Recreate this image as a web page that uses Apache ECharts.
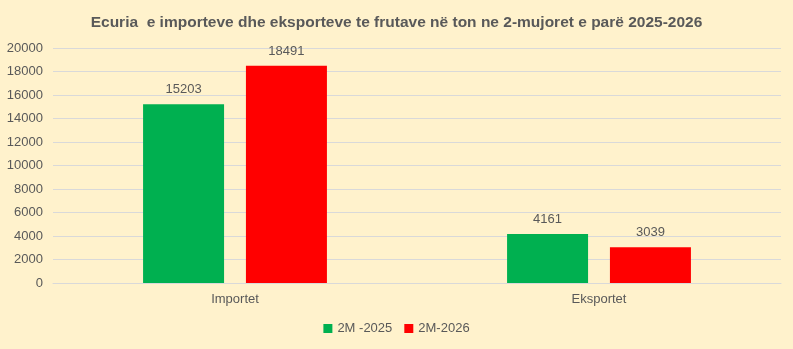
<!DOCTYPE html>
<html><head><meta charset="utf-8">
<script src="https://cdn.jsdelivr.net/npm/echarts@6/dist/echarts.min.js"></script>
<style>html,body{margin:0;padding:0;background:#FFF2CC;}#c{width:793px;height:349px;}</style>
</head><body><div id="c"></div>
<script>
const categories = ['Importet', 'Eksportet'];
const series2025 = [15203, 4161];
const series2026 = [18491, 3039];
const seriesNames = ['2M -2025', '2M-2026'];
const yTicks = [0, 2000, 4000, 6000, 8000, 10000, 12000, 14000, 16000, 18000, 20000];

const font = 'Liberation Sans, sans-serif';
const chart = echarts.init(document.getElementById('c'));
chart.setOption({
  backgroundColor: '#FFF2CC',
  animation: false,
  textStyle: { fontFamily: font },
  title: {
    text: 'Ecuria  e importeve dhe eksporteve te frutave në ton ne 2-mujoret e parë 2025-2026',
    left: 'center', top: 10,
    textStyle: { fontSize: 15.5, fontWeight: 'bold', color: '#595959', fontFamily: font }
  },
  legend: {
    bottom: 9, left: 'center',
    itemWidth: 9, itemHeight: 9, itemGap: 12,
    icon: 'rect',
    textStyle: { fontSize: 13, color: '#595959', fontFamily: font },
    data: seriesNames
  },
  grid: { left: 53, right: 12, top: 48, bottom: 66 },
  xAxis: {
    type: 'category', data: categories,
    axisLine: { lineStyle: { color: '#D9D9D9' } },
    axisTick: { show: false },
    axisLabel: { color: '#595959', fontSize: 13, margin: 10, fontFamily: font }
  },
  yAxis: {
    type: 'value', min: yTicks[0], max: yTicks[yTicks.length - 1], interval: 2000,
    axisLine: { show: false }, axisTick: { show: false },
    splitLine: { lineStyle: { color: '#D9D9D9' } },
    axisLabel: { color: '#595959', fontSize: 13, margin: 10, fontFamily: font,
      formatter: v => String(v) }
  },
  series: [
    { name: seriesNames[0], type: 'bar', data: series2025, barWidth: 81, barGap: '27%',
      itemStyle: { color: '#00B050' },
      label: { show: true, position: 'top', distance: 8, color: '#595959', fontSize: 13, fontFamily: font } },
    { name: seriesNames[1], type: 'bar', data: series2026, barWidth: 81,
      itemStyle: { color: '#FF0000' },
      label: { show: true, position: 'top', distance: 8, color: '#595959', fontSize: 13, fontFamily: font } }
  ]
});
</script></body></html>
